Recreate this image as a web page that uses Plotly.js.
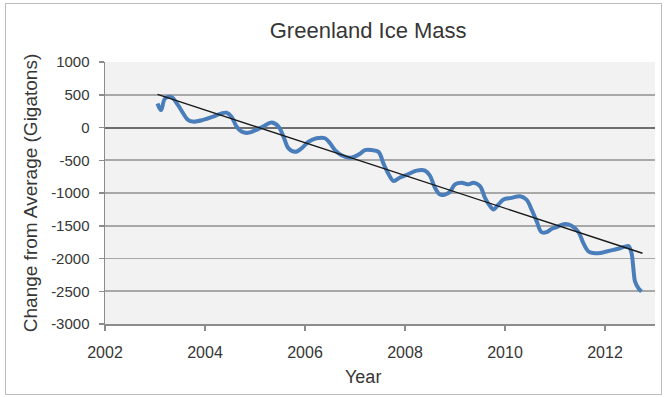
<!DOCTYPE html>
<html>
<head>
<meta charset="utf-8">
<script src="https://cdn.plot.ly/plotly-3.0.1.min.js"></script>
<style>
html,body{margin:0;padding:0;background:#fff;}
#wrap{position:relative;width:667px;height:397px;}
#chart{position:absolute;left:0;top:0;width:667px;height:397px;}
#frame{position:absolute;left:5px;top:3px;width:655px;height:390px;border:1px solid #bdbdbd;pointer-events:none;}
</style>
</head>
<body>
<div id="wrap"><div id="chart"></div><div id="frame"></div></div>
<script>
// Data
const years = [2003.05,2003.12,2003.2,2003.33,2003.46,2003.56,2003.66,2003.76,2003.96,2004.16,2004.33,2004.43,2004.53,2004.63,2004.73,2004.86,2005.0,2005.16,2005.33,2005.47,2005.57,2005.67,2005.8,2005.93,2006.07,2006.23,2006.4,2006.5,2006.6,2006.73,2006.9,2007.0,2007.1,2007.2,2007.33,2007.47,2007.57,2007.67,2007.77,2007.9,2008.07,2008.23,2008.4,2008.5,2008.6,2008.7,2008.8,2008.9,2009.0,2009.13,2009.27,2009.37,2009.5,2009.6,2009.7,2009.77,2009.87,2009.97,2010.13,2010.3,2010.43,2010.53,2010.63,2010.73,2010.83,2010.93,2011.0,2011.2,2011.33,2011.47,2011.57,2011.67,2011.77,2011.9,2012.03,2012.17,2012.3,2012.4,2012.47,2012.53,2012.57,2012.6,2012.67,2012.73];
const massChange = [366,266,441,465,341,221,116,90,116,165,216,225,165,15,-62,-82,-45,15,75,15,-139,-319,-372,-319,-217,-164,-164,-241,-345,-423,-460,-440,-400,-345,-345,-372,-552,-710,-816,-763,-710,-658,-658,-737,-921,-1024,-1024,-980,-868,-842,-868,-842,-894,-1075,-1200,-1250,-1175,-1100,-1075,-1050,-1100,-1250,-1425,-1598,-1598,-1549,-1530,-1475,-1500,-1598,-1770,-1893,-1917,-1917,-1893,-1868,-1843,-1819,-1810,-1917,-2172,-2350,-2455,-2505];
const trendYears = [2003.05, 2012.75];
const trendValues = [505, -1920];
const xTickVals = [2002,2004,2006,2008,2010,2012];
const yTickVals = [1000,500,0,-500,-1000,-1500,-2000,-2500,-3000];

const txt = '#363636';
const fam = 'Liberation Sans, Arial, sans-serif';

const traces = [
  {x: years, y: massChange, type:'scatter', mode:'lines',
   line:{color:'#4a7ebb', width:4, shape:'spline', smoothing:1}, hoverinfo:'skip'},
  {x: trendYears, y: trendValues, type:'scatter', mode:'lines',
   line:{color:'#1a1a1a', width:1.4}, hoverinfo:'skip'}
];

const layout = {
  width:667, height:397,
  paper_bgcolor:'#ffffff', plot_bgcolor:'#f2f2f2',
  showlegend:false,
  margin:{l:105, r:12, t:62, b:72.5},
  font:{family:fam, color:txt},
  title:{text:'Greenland Ice Mass', font:{size:22, color:txt, family:fam},
         xref:'container', x:0.552, xanchor:'center', yref:'container', y:1-30/397, yanchor:'middle'},
  xaxis:{range:[2002,2013], tickvals:xTickVals, ticktext:xTickVals.map(String),
         showgrid:false, zeroline:false, showline:true, linecolor:'#8c8c8c', linewidth:1.5,
         ticks:'outside', ticklen:5, tickcolor:'#8c8c8c', tickwidth:1.5,
         tickfont:{size:16, color:txt}, ticklabelstandoff:8},
  yaxis:{range:[-3000,1000], tickvals:yTickVals, ticktext:yTickVals.map(String),
         showgrid:true, gridcolor:'#a8a8a8', gridwidth:1.6,
         zeroline:true, zerolinecolor:'#6e6e6e', zerolinewidth:2,
         showline:true, linecolor:'#8c8c8c', linewidth:1.5,
         ticks:'outside', ticklen:5, tickcolor:'#8c8c8c', tickwidth:1.5,
         tickfont:{size:15, color:txt}, ticklabelstandoff:6,
         title:{text:'Change from Average (Gigatons)', font:{size:19, color:txt}, standoff:8}},
  annotations:[
    {text:'Year', xref:'paper', yref:'paper', x:(363-105)/550, y:(324.5-378)/262.5,
     xanchor:'center', yanchor:'middle', showarrow:false, font:{size:18, color:txt}}
  ]
};

Plotly.newPlot('chart', traces, layout, {staticPlot:true, displayModeBar:false});
</script>
</body>
</html>
